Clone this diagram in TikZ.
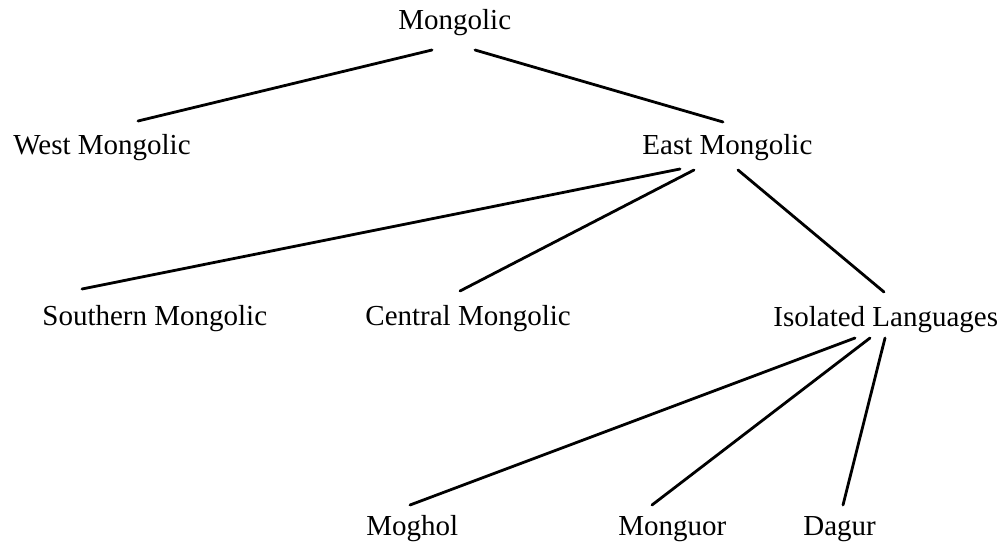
\documentclass[tikz,border=0pt]{standalone}
\usepackage{fontspec}
\setmainfont{Liberation Serif}
\begin{document}
\begin{tikzpicture}[x=0.5pt,y=-0.5pt,
  lang/.style={inner sep=0pt,anchor=base west,font=\fontsize{14.5pt}{17pt}\selectfont},
  branch/.style={line width=1.4pt,line cap=round}]
\useasboundingbox (0,0) rectangle (1005,556);
\node[lang] (mon) at (398,30) {Mongolic};
\node[lang] (west) at (13,155) {West Mongolic};
\node[lang] (east) at (642,155) {East Mongolic};
\node[lang] (south) at (42,325) {Southern Mongolic};
\node[lang] (cent) at (365,325) {Central Mongolic};
\node[lang] (iso) at (773,326) {Isolated Languages};
\node[lang] (mog) at (366,535) {Moghol};
\node[lang] (mgr) at (618,535) {Monguor};
\node[lang] (dag) at (803,535) {Dagur};
% connector ends
\coordinate (mon-w) at (432,50);
\coordinate (mon-e) at (475,50);
\coordinate (west-t) at (138,121);
\coordinate (east-t) at (723,122);
\coordinate (east-s) at (680,169);
\coordinate (east-c) at (694,170);
\coordinate (east-i) at (738,170);
\coordinate (south-t) at (82,289);
\coordinate (cent-t) at (460,291);
\coordinate (iso-t) at (884,292);
\coordinate (iso-m) at (855,338);
\coordinate (iso-g) at (870,338);
\coordinate (iso-d) at (885,338);
\coordinate (mog-t) at (410,505);
\coordinate (mgr-t) at (652,505);
\coordinate (dag-t) at (843,505);
\draw[branch] (mon-w) -- (west-t);
\draw[branch] (mon-e) -- (east-t);
\draw[branch] (east-s) -- (south-t);
\draw[branch] (east-c) -- (cent-t);
\draw[branch] (east-i) -- (iso-t);
\draw[branch] (iso-m) -- (mog-t);
\draw[branch] (iso-g) -- (mgr-t);
\draw[branch] (iso-d) -- (dag-t);
\end{tikzpicture}
\end{document}
